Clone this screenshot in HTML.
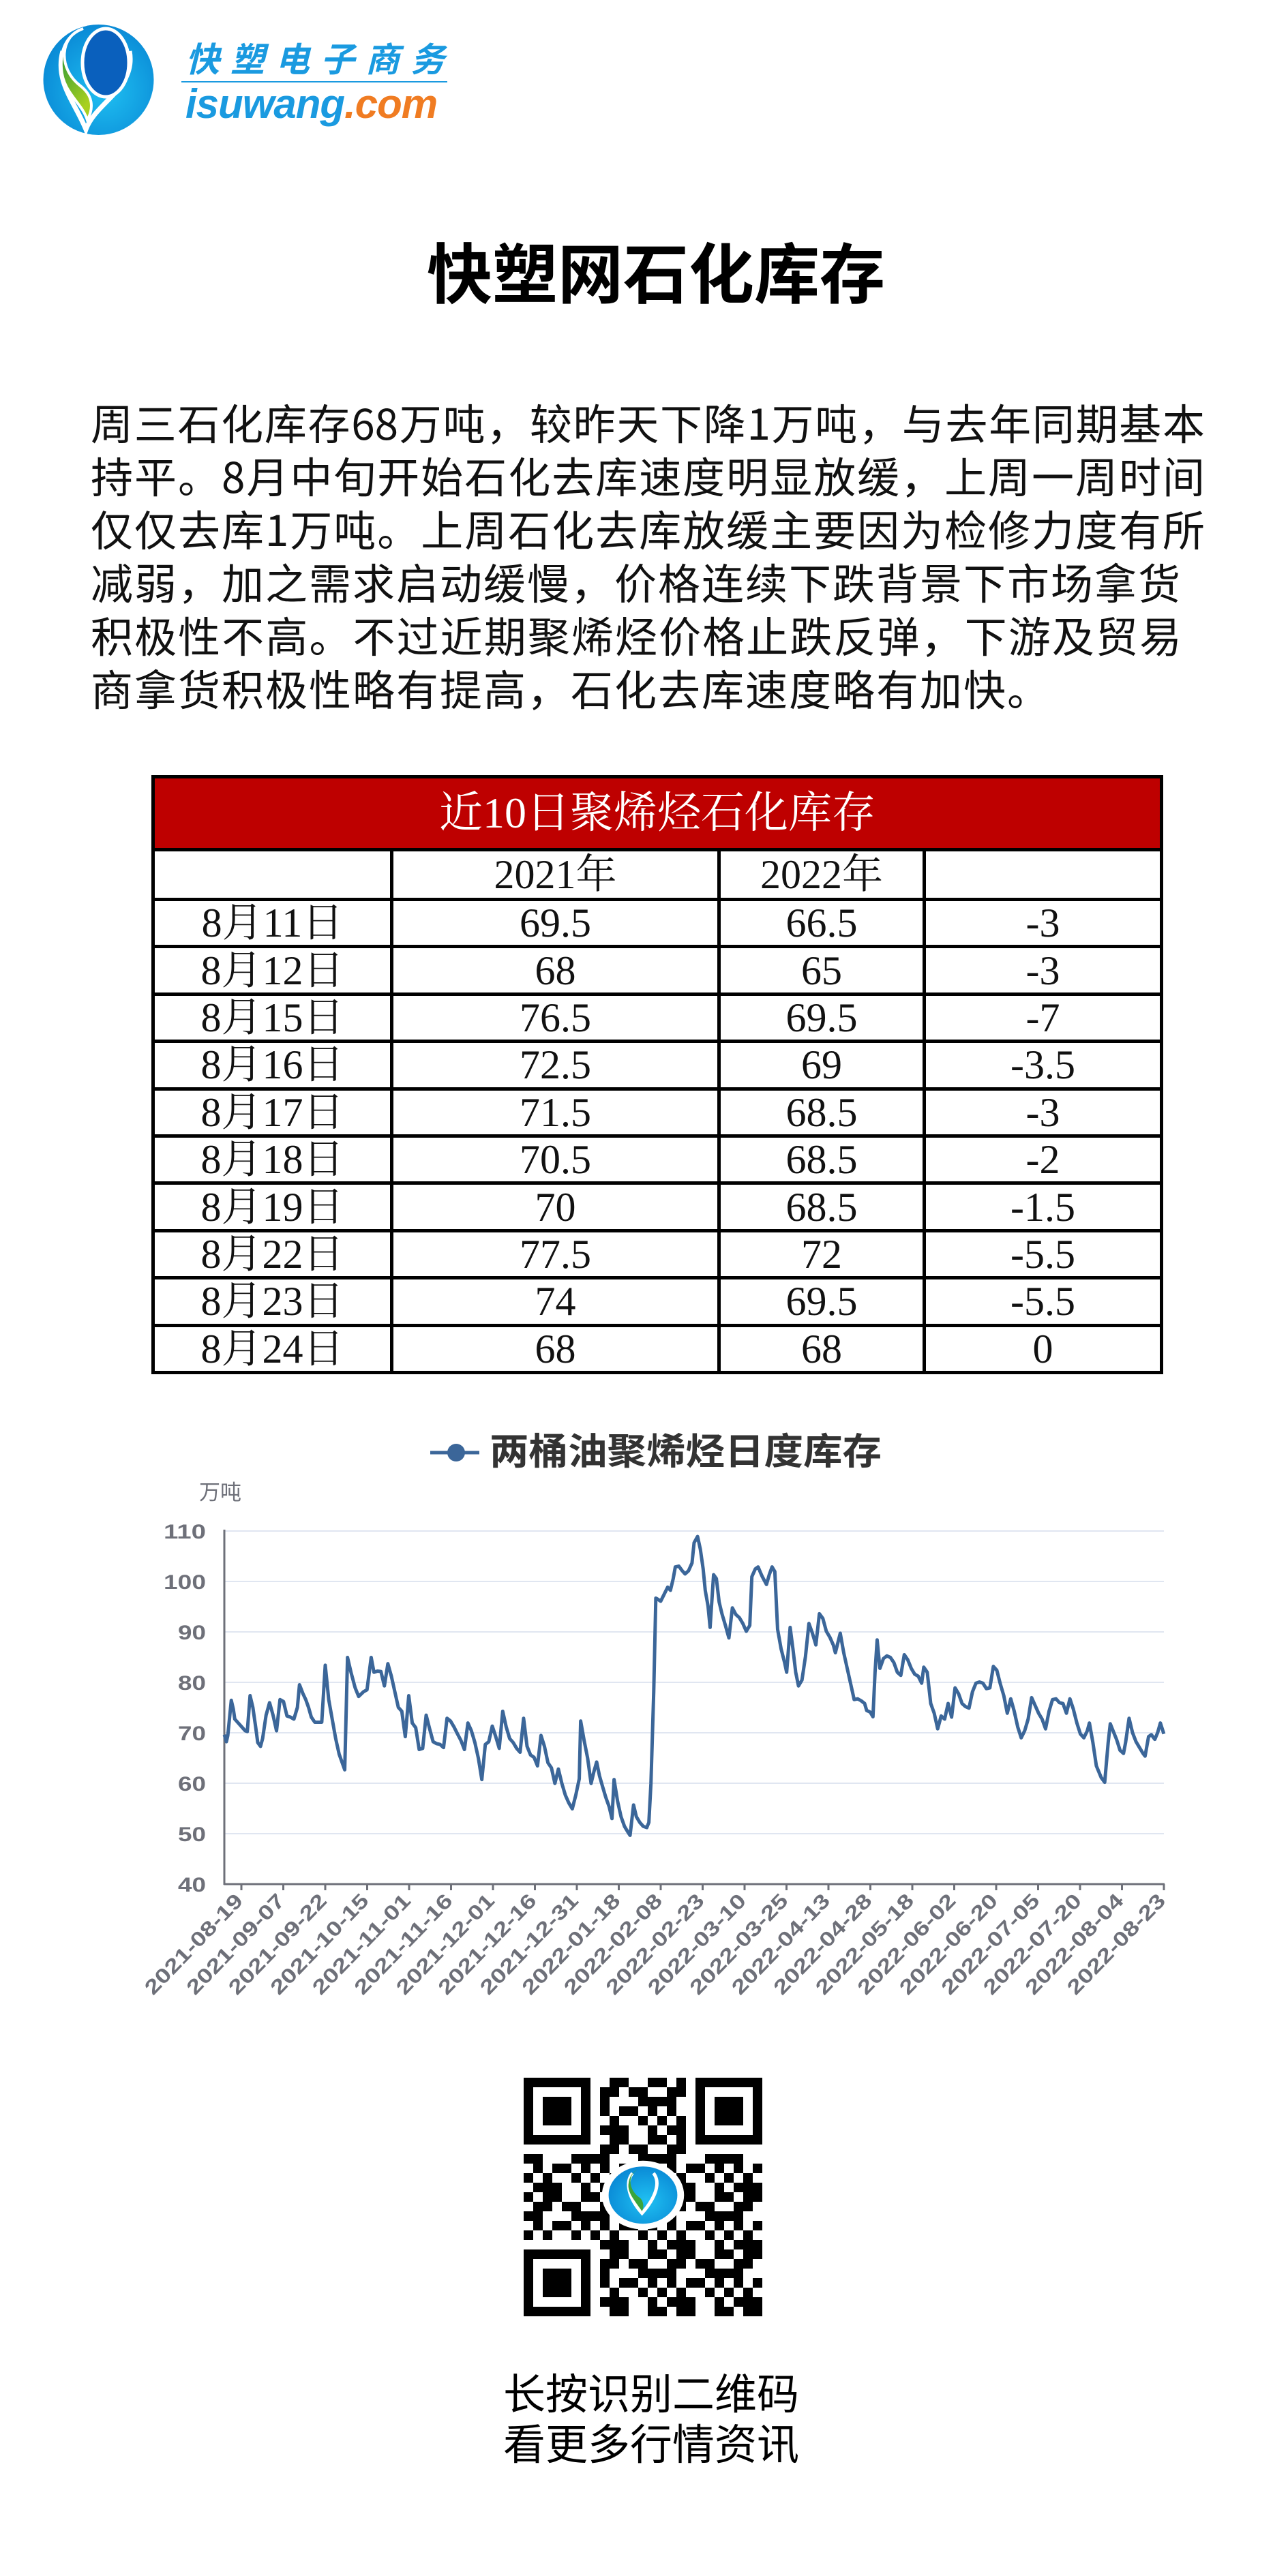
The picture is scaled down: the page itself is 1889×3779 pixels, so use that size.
<!DOCTYPE html>
<html><head><meta charset="utf-8">
<style>
*{margin:0;padding:0;box-sizing:border-box}
html,body{width:1889px;height:3779px;background:#fff;overflow:hidden}
body{position:relative;font-family:"Liberation Sans","Noto Sans CJK SC",sans-serif}
.abs{position:absolute}
.pl{position:absolute;left:133px;font-size:62px;line-height:78px;height:78px;white-space:nowrap;text-align:justify;text-align-last:justify;color:#111;font-family:"Noto Sans CJK SC",sans-serif}
table.t{position:absolute;left:222px;top:1137px;width:1479px;border-collapse:collapse;table-layout:fixed;font-family:"Liberation Serif","Noto Serif CJK SC",serif;color:#111}
table.t td{border:5px solid #000;text-align:center;font-size:60px;padding:0;line-height:1;overflow:hidden}
table.t tr.d{height:69.4px}
</style></head><body>

<svg class="abs" style="left:0;top:0" width="300" height="220" viewBox="0 0 300 220">
<defs><radialGradient id="lg" cx="0.55" cy="0.6" r="0.6"><stop offset="0" stop-color="#1fc0f2"/><stop offset="1" stop-color="#0a8ad6"/></radialGradient>
<linearGradient id="gg" x1="0" y1="0" x2="0.4" y2="1"><stop offset="0" stop-color="#0d8a3c"/><stop offset="1" stop-color="#a8d020"/></linearGradient></defs>
<ellipse cx="144.5" cy="117" rx="81" ry="81" fill="url(#lg)"/>
<path d="M92 75 C80 120,110 150,126 190 C140 150,200 130,190 75" fill="none" stroke="#fff" stroke-width="7"/>
<ellipse cx="155" cy="92" rx="34" ry="50" fill="#0a60bd" stroke="#fff" stroke-width="5"/>
<path d="M122 42 C88 52,84 100,118 126 C136 140,138 158,128 176 C120 150,92 136,90 100 C88 70,100 50,122 42 Z" fill="url(#gg)" stroke="#fff" stroke-width="4"/>
</svg>
<div class="abs" style="left:272px;top:54px;font-size:50px;line-height:60px;font-weight:bold;font-style:italic;color:#1a9ae0;letter-spacing:16px;white-space:nowrap;font-family:'Noto Sans CJK SC',sans-serif">快塑电子商务</div>
<div class="abs" style="left:266px;top:119px;width:390px;height:2px;background:#1a9ae0"></div>
<div class="abs" style="left:272px;top:118px;font-size:60px;line-height:70px;font-weight:bold;font-style:italic;white-space:nowrap;letter-spacing:-1px"><span style="color:#1a9ae0">isuwang</span><span style="color:#f07c22">.com</span></div>

<div class="abs" style="left:600px;top:346px;width:724px;text-align:center;font-size:96px;line-height:100px;font-weight:bold;color:#000;font-family:'Noto Sans CJK SC',sans-serif;white-space:nowrap">快塑网石化库存</div>

<div class="pl" style="top:579px;width:1634px">周三石化库存68万吨，较昨天下降1万吨，与去年同期基本</div>
<div class="pl" style="top:657px;width:1634px">持平。8月中旬开始石化去库速度明显放缓，上周一周时间</div>
<div class="pl" style="top:735px;width:1634px">仅仅去库1万吨。上周石化去库放缓主要因为检修力度有所</div>
<div class="pl" style="top:813px;width:1598px">减弱，加之需求启动缓慢，价格连续下跌背景下市场拿货</div>
<div class="pl" style="top:891px;width:1600px">积极性不高。不过近期聚烯烃价格止跌反弹，下游及贸易</div>
<div class="pl" style="top:969px;text-align:left;text-align-last:left;letter-spacing:2px">商拿货积极性略有提高，石化去库速度略有加快。</div>

<table class="t">
<colgroup><col style="width:350px"><col style="width:480px"><col style="width:301px"><col style="width:348px"></colgroup>
<tr style="height:107px"><td colspan="4" style="background:#be0000;color:#fff;font-size:64px">近10日聚烯烃石化库存</td></tr>
<tr style="height:73px"><td></td><td>2021年</td><td>2022年</td><td></td></tr>
<tr class="d"><td>8月11日</td><td>69.5</td><td>66.5</td><td>-3</td></tr>
<tr class="d"><td>8月12日</td><td>68</td><td>65</td><td>-3</td></tr>
<tr class="d"><td>8月15日</td><td>76.5</td><td>69.5</td><td>-7</td></tr>
<tr class="d"><td>8月16日</td><td>72.5</td><td>69</td><td>-3.5</td></tr>
<tr class="d"><td>8月17日</td><td>71.5</td><td>68.5</td><td>-3</td></tr>
<tr class="d"><td>8月18日</td><td>70.5</td><td>68.5</td><td>-2</td></tr>
<tr class="d"><td>8月19日</td><td>70</td><td>68.5</td><td>-1.5</td></tr>
<tr class="d"><td>8月22日</td><td>77.5</td><td>72</td><td>-5.5</td></tr>
<tr class="d"><td>8月23日</td><td>74</td><td>69.5</td><td>-5.5</td></tr>
<tr class="d"><td>8月24日</td><td>68</td><td>68</td><td>0</td></tr>
</table>

<svg class="abs" style="left:0;top:0" width="1889" height="3779" viewBox="0 0 1889 3779">
<g font-family="Liberation Sans, Noto Sans CJK SC, sans-serif">
<line x1="631" y1="2131" x2="703" y2="2131" stroke="#3b6699" stroke-width="5"/>
<circle cx="669" cy="2131" r="13" fill="#3b6699"/>
<text x="718" y="2148" font-size="54" font-weight="bold" fill="#333" textLength="575" lengthAdjust="spacingAndGlyphs" font-family="Noto Sans CJK SC, sans-serif">两桶油聚烯烃日度库存</text>
<text x="292" y="2200" font-size="31" fill="#6e7079" font-family="Noto Sans CJK SC, sans-serif">万吨</text>
<g stroke="#e0e6f1" stroke-width="2">
<line x1="329" y1="2246" x2="1707" y2="2246"/><line x1="329" y1="2320" x2="1707" y2="2320"/>
<line x1="329" y1="2394" x2="1707" y2="2394"/><line x1="329" y1="2468" x2="1707" y2="2468"/>
<line x1="329" y1="2542" x2="1707" y2="2542"/><line x1="329" y1="2616" x2="1707" y2="2616"/>
<line x1="329" y1="2690" x2="1707" y2="2690"/>
</g>
<g font-size="30" font-weight="bold" fill="#6e7079" text-anchor="end">
<text x="302" y="2257" textLength="62" lengthAdjust="spacingAndGlyphs">110</text>
<text x="302" y="2331" textLength="62" lengthAdjust="spacingAndGlyphs">100</text>
<text x="302" y="2405" textLength="41" lengthAdjust="spacingAndGlyphs">90</text>
<text x="302" y="2479" textLength="41" lengthAdjust="spacingAndGlyphs">80</text>
<text x="302" y="2553" textLength="41" lengthAdjust="spacingAndGlyphs">70</text>
<text x="302" y="2627" textLength="41" lengthAdjust="spacingAndGlyphs">60</text>
<text x="302" y="2701" textLength="41" lengthAdjust="spacingAndGlyphs">50</text>
<text x="302" y="2775" textLength="41" lengthAdjust="spacingAndGlyphs">40</text>
</g>
<g stroke="#6e7079" stroke-width="3">
<line x1="329" y1="2244" x2="329" y2="2765"/>
<line x1="328" y1="2764" x2="1708" y2="2764"/>
<line x1="354" y1="2764" x2="354" y2="2773"/><line x1="415.5" y1="2764" x2="415.5" y2="2773"/>
<line x1="477" y1="2764" x2="477" y2="2773"/><line x1="538.5" y1="2764" x2="538.5" y2="2773"/>
<line x1="600" y1="2764" x2="600" y2="2773"/><line x1="661.5" y1="2764" x2="661.5" y2="2773"/>
<line x1="723" y1="2764" x2="723" y2="2773"/><line x1="784.5" y1="2764" x2="784.5" y2="2773"/>
<line x1="846" y1="2764" x2="846" y2="2773"/><line x1="907.5" y1="2764" x2="907.5" y2="2773"/>
<line x1="969" y1="2764" x2="969" y2="2773"/><line x1="1030.5" y1="2764" x2="1030.5" y2="2773"/>
<line x1="1092" y1="2764" x2="1092" y2="2773"/><line x1="1153.5" y1="2764" x2="1153.5" y2="2773"/>
<line x1="1215" y1="2764" x2="1215" y2="2773"/><line x1="1276.5" y1="2764" x2="1276.5" y2="2773"/>
<line x1="1338" y1="2764" x2="1338" y2="2773"/><line x1="1399.5" y1="2764" x2="1399.5" y2="2773"/>
<line x1="1461" y1="2764" x2="1461" y2="2773"/><line x1="1522.5" y1="2764" x2="1522.5" y2="2773"/>
<line x1="1584" y1="2764" x2="1584" y2="2773"/><line x1="1645.5" y1="2764" x2="1645.5" y2="2773"/>
<line x1="1707" y1="2764" x2="1707" y2="2773"/>
</g>
<g font-size="30" font-weight="bold" fill="#6e7079" text-anchor="end">
<text x="358" y="2790" transform="rotate(-46 358 2790)" textLength="192" lengthAdjust="spacingAndGlyphs">2021-08-19</text>
<text x="419.5" y="2790" transform="rotate(-46 419.5 2790)" textLength="192" lengthAdjust="spacingAndGlyphs">2021-09-07</text>
<text x="481" y="2790" transform="rotate(-46 481 2790)" textLength="192" lengthAdjust="spacingAndGlyphs">2021-09-22</text>
<text x="542.5" y="2790" transform="rotate(-46 542.5 2790)" textLength="192" lengthAdjust="spacingAndGlyphs">2021-10-15</text>
<text x="604" y="2790" transform="rotate(-46 604 2790)" textLength="192" lengthAdjust="spacingAndGlyphs">2021-11-01</text>
<text x="665.5" y="2790" transform="rotate(-46 665.5 2790)" textLength="192" lengthAdjust="spacingAndGlyphs">2021-11-16</text>
<text x="727" y="2790" transform="rotate(-46 727 2790)" textLength="192" lengthAdjust="spacingAndGlyphs">2021-12-01</text>
<text x="788.5" y="2790" transform="rotate(-46 788.5 2790)" textLength="192" lengthAdjust="spacingAndGlyphs">2021-12-16</text>
<text x="850" y="2790" transform="rotate(-46 850 2790)" textLength="192" lengthAdjust="spacingAndGlyphs">2021-12-31</text>
<text x="911.5" y="2790" transform="rotate(-46 911.5 2790)" textLength="192" lengthAdjust="spacingAndGlyphs">2022-01-18</text>
<text x="973" y="2790" transform="rotate(-46 973 2790)" textLength="192" lengthAdjust="spacingAndGlyphs">2022-02-08</text>
<text x="1034.5" y="2790" transform="rotate(-46 1034.5 2790)" textLength="192" lengthAdjust="spacingAndGlyphs">2022-02-23</text>
<text x="1096" y="2790" transform="rotate(-46 1096 2790)" textLength="192" lengthAdjust="spacingAndGlyphs">2022-03-10</text>
<text x="1157.5" y="2790" transform="rotate(-46 1157.5 2790)" textLength="192" lengthAdjust="spacingAndGlyphs">2022-03-25</text>
<text x="1219" y="2790" transform="rotate(-46 1219 2790)" textLength="192" lengthAdjust="spacingAndGlyphs">2022-04-13</text>
<text x="1280.5" y="2790" transform="rotate(-46 1280.5 2790)" textLength="192" lengthAdjust="spacingAndGlyphs">2022-04-28</text>
<text x="1342" y="2790" transform="rotate(-46 1342 2790)" textLength="192" lengthAdjust="spacingAndGlyphs">2022-05-18</text>
<text x="1403.5" y="2790" transform="rotate(-46 1403.5 2790)" textLength="192" lengthAdjust="spacingAndGlyphs">2022-06-02</text>
<text x="1465" y="2790" transform="rotate(-46 1465 2790)" textLength="192" lengthAdjust="spacingAndGlyphs">2022-06-20</text>
<text x="1526.5" y="2790" transform="rotate(-46 1526.5 2790)" textLength="192" lengthAdjust="spacingAndGlyphs">2022-07-05</text>
<text x="1588" y="2790" transform="rotate(-46 1588 2790)" textLength="192" lengthAdjust="spacingAndGlyphs">2022-07-20</text>
<text x="1649.5" y="2790" transform="rotate(-46 1649.5 2790)" textLength="192" lengthAdjust="spacingAndGlyphs">2022-08-04</text>
<text x="1711" y="2790" transform="rotate(-46 1711 2790)" textLength="192" lengthAdjust="spacingAndGlyphs">2022-08-23</text>
</g>
<g transform="matrix(1.0207 0 0 0.5724 181 2081.15)">
<polyline fill="none" stroke="#3b6699" stroke-width="5" vector-effect="non-scaling-stroke" stroke-linejoin="round" points="145,810 148,828 150,812 155,722 158,745 160,770 165,780 170,790 175,800 178,802 182,710 186,740 190,790 193,830 197,840 200,820 205,760 210,728 215,760 220,800 225,720 230,725 235,762 240,765 245,770 250,740 253,682 258,705 262,720 266,740 270,765 275,778 280,778 285,778 290,632 295,720 300,770 305,820 310,860 318,900 322,612 327,650 333,690 338,712 345,700 350,695 356,612 360,650 365,647 370,648 375,685 380,628 385,660 390,700 395,740 400,750 405,815 410,710 415,780 420,792 425,848 430,845 435,760 440,795 445,828 450,833 455,835 460,843 465,768 470,775 475,790 480,808 485,825 490,848 495,780 500,800 505,830 510,870 515,925 520,835 525,828 530,788 535,815 540,845 545,750 550,790 555,820 560,830 565,845 570,855 575,768 580,840 585,862 590,868 595,890 600,812 605,840 610,882 615,895 620,935 625,898 630,935 635,965 640,985 645,1000 650,965 655,923 657,775 662,825 667,870 672,935 676,905 680,880 684,915 688,940 693,970 698,995 702,1025 705,925 710,980 715,1020 720,1045 725,1060 728,1068 733,990 737,1020 742,1035 747,1045 752,1048 755,1035 758,935 762,700 765,460 768,463 772,468 777,450 782,432 786,440 790,410 793,380 798,378 803,390 807,398 812,390 817,370 820,318 825,302 829,335 833,385 836,440 840,480 843,535 848,400 852,410 856,470 860,500 865,530 870,562 875,485 880,502 885,510 890,525 895,545 900,530 903,405 908,385 912,380 915,393 918,405 924,425 928,400 932,380 936,392 940,540 945,590 950,625 953,650 958,535 962,590 966,650 970,685 975,670 980,610 985,525 990,550 995,580 1000,500 1005,512 1010,545 1015,560 1020,580 1023,600 1030,550 1035,600 1040,640 1045,680 1050,720 1055,718 1060,723 1065,730 1068,748 1073,752 1077,764 1080,650 1083,567 1087,640 1092,615 1097,608 1102,612 1107,625 1112,650 1117,658 1122,605 1127,618 1132,640 1137,655 1142,660 1147,678 1150,637 1155,650 1160,730 1165,755 1170,795 1175,762 1180,770 1185,730 1190,765 1195,690 1200,705 1205,730 1210,738 1215,742 1220,700 1225,678 1230,675 1235,678 1240,692 1245,690 1250,635 1255,645 1260,680 1265,710 1270,755 1275,718 1280,750 1285,790 1290,818 1295,800 1300,770 1305,715 1310,735 1315,755 1320,770 1325,795 1330,750 1335,720 1340,718 1345,728 1350,730 1355,755 1360,718 1365,745 1370,780 1375,808 1380,818 1385,800 1388,780 1393,830 1398,890 1405,920 1410,932 1415,830 1418,782 1422,800 1427,822 1432,850 1437,858 1440,830 1445,768 1450,805 1455,828 1460,843 1465,858 1468,865 1473,815 1477,810 1482,822 1486,805 1490,780 1495,808"/>
</g>
</g>

<defs>
<pattern id="qp" x="0" y="0" width="7" height="6" patternUnits="userSpaceOnUse">
<rect x="0" y="0" width="1" height="1"/><rect x="2" y="0" width="2" height="1"/><rect x="6" y="0" width="1" height="1"/>
<rect x="1" y="1" width="2" height="1"/><rect x="4" y="1" width="2" height="1"/>
<rect x="0" y="2" width="2" height="1"/><rect x="5" y="2" width="2" height="1"/>
<rect x="1" y="3" width="1" height="1"/><rect x="3" y="3" width="2" height="1"/><rect x="6" y="3" width="1" height="1"/>
<rect x="0" y="4" width="1" height="1"/><rect x="2" y="4" width="1" height="1"/><rect x="5" y="4" width="1" height="1"/>
<rect x="1" y="5" width="3" height="1"/><rect x="6" y="5" width="1" height="1"/>
</pattern>
<radialGradient id="lg2" cx="0.55" cy="0.6" r="0.6"><stop offset="0" stop-color="#1fc0f2"/><stop offset="1" stop-color="#0a8ad6"/></radialGradient>
</defs>
<g transform="translate(768 3048) scale(14)">
<rect x="0" y="0" width="25" height="25" fill="url(#qp)"/>
<rect x="0" y="0" width="8" height="8" fill="#fff"/><rect x="17" y="0" width="8" height="8" fill="#fff"/><rect x="0" y="17" width="8" height="8" fill="#fff"/>
<path d="M0 0h7v7h-7zM1 1v5h5v-5zM2 2h3v3h-3z M18 0h7v7h-7zM19 1v5h5v-5zM20 2h3v3h-3z M0 18h7v7h-7zM1 19v5h5v-5zM2 20h3v3h-3z" fill="#000" fill-rule="evenodd"/>
<ellipse cx="12.5" cy="12.3" rx="4.3" ry="3.6" fill="#fff"/>
<ellipse cx="12.5" cy="12.3" rx="3.6" ry="3" fill="url(#lg2)"/>
<path d="M11.4 10 C10.6 11,11 12.6,12.4 14.2 C13.8 12.6,14.4 11,13.6 10" fill="none" stroke="#fff" stroke-width="0.35"/>
<path d="M12 9.6 C10.8 10.2,11 11.8,12.2 12.6 C12.6 13,12.6 13.6,12.4 14 C11.6 12.8,10.8 12,11 11 C11.1 10.3,11.5 9.8,12 9.6Z" fill="#3aa53a"/>
</g>

</svg>

<div class="abs" style="left:720px;top:3470px;width:470px;text-align:center;font-size:62px;line-height:74px;color:#000;font-family:'Noto Sans CJK SC',sans-serif;white-space:nowrap">长按识别二维码<br>看更多行情资讯</div>
</body></html>
